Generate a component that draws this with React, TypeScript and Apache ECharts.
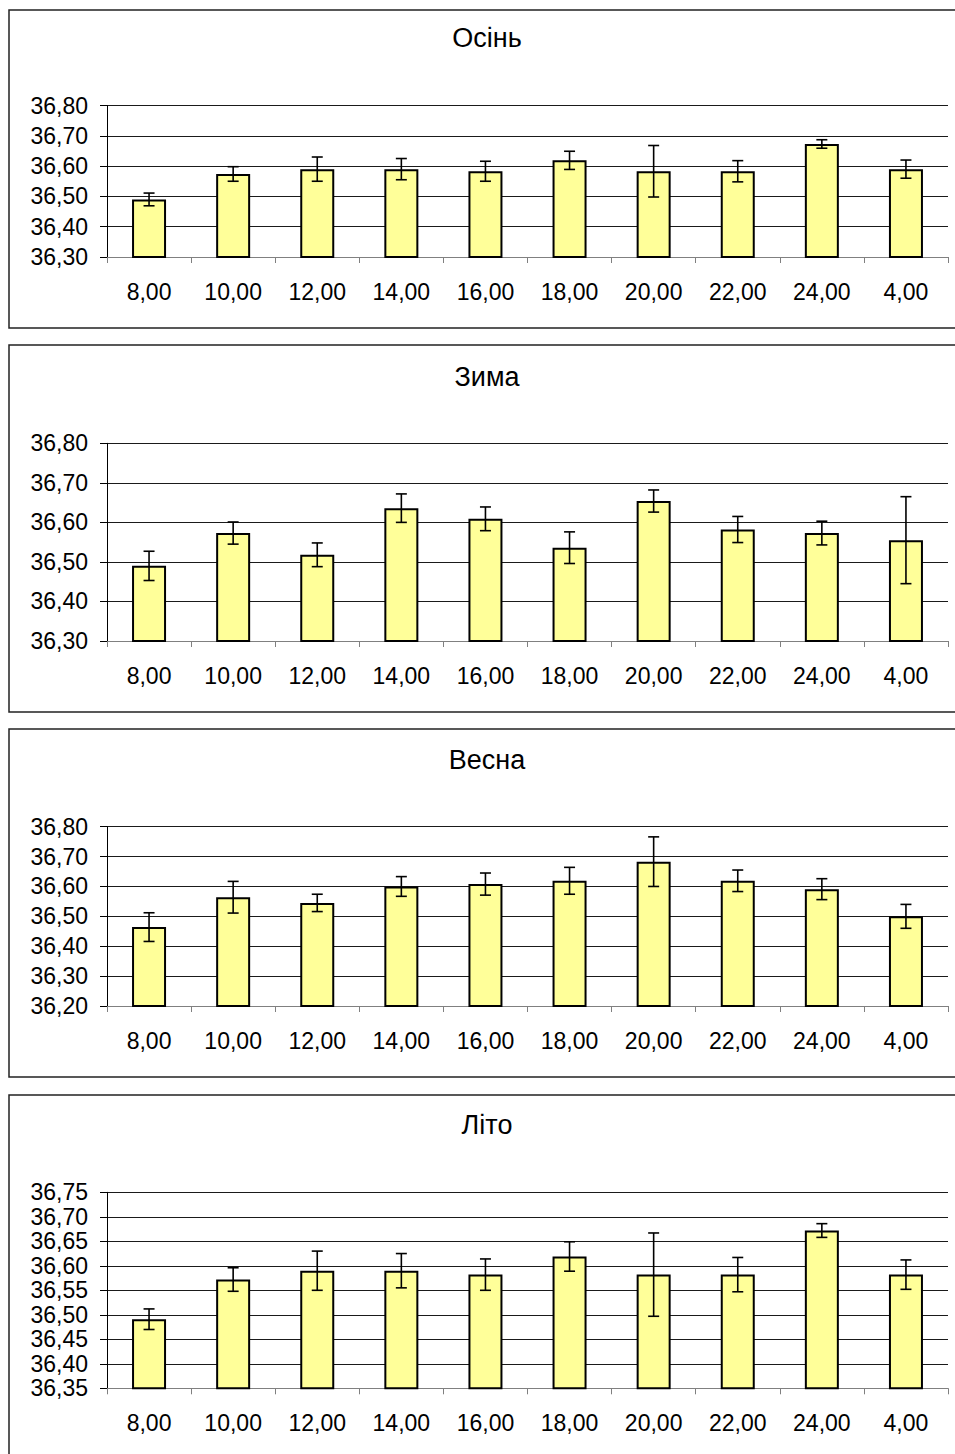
import React, { useEffect, useRef } from "react";
import * as echarts from "echarts";

const categories = ["8,00", "10,00", "12,00", "14,00", "16,00", "18,00", "20,00", "22,00", "24,00", "4,00"];

const seasonTitles = ["Осінь", "Зима", "Весна", "Літо"];

const autumnMean = [36.49, 36.574, 36.59, 36.59, 36.583, 36.619, 36.583, 36.583, 36.673, 36.59];
const autumnErr = [0.021, 0.024, 0.04, 0.035, 0.033, 0.03, 0.085, 0.035, 0.014, 0.03];

const winterMean = [36.49, 36.573, 36.518, 36.636, 36.609, 36.536, 36.654, 36.582, 36.573, 36.555];
const winterErr = [0.037, 0.028, 0.03, 0.036, 0.03, 0.04, 0.028, 0.033, 0.03, 0.11];

const springMean = [36.464, 36.564, 36.545, 36.6, 36.608, 36.619, 36.683, 36.619, 36.591, 36.5];
const springErr = [0.048, 0.053, 0.029, 0.033, 0.037, 0.045, 0.083, 0.036, 0.035, 0.04];

const summerMean = [36.491, 36.572, 36.59, 36.59, 36.582, 36.619, 36.582, 36.582, 36.672, 36.582];
const summerErr = [0.021, 0.024, 0.04, 0.035, 0.032, 0.03, 0.085, 0.035, 0.014, 0.03];

const yMins = [36.3, 36.3, 36.2, 36.35];
const yMaxs = [36.8, 36.8, 36.8, 36.75];
const yIntervals = [0.1, 0.1, 0.1, 0.05];

const FONT = "'Liberation Sans', Arial, sans-serif";

export default function App() {
  const ref = useRef<HTMLDivElement>(null);

  useEffect(() => {
    if (!ref.current) return;
    const chart = echarts.init(ref.current, undefined, { renderer: "svg" });

    const means = [autumnMean, winterMean, springMean, summerMean];
    const errs = [autumnErr, winterErr, springErr, summerErr];

    // layout (pixels)
    const gridTops = [105.5, 443.3, 826.7, 1192.3];
    const gridHeights = [151.5, 197.7, 179.3, 196];
    const panelTops = [10, 345, 729, 1095];
    const panelBottoms = [328, 712, 1077, 1470];
    const titleYs = [38, 377, 760, 1125];

    const grids: any[] = [];
    const xAxes: any[] = [];
    const yAxes: any[] = [];
    const series: any[] = [];
    const graphics: any[] = [];

    for (let p = 0; p < 4; p++) {
      grids.push({ left: 107, width: 841, top: gridTops[p], height: gridHeights[p] });
      xAxes.push({
        type: "category",
        gridIndex: p,
        data: categories,
        axisLine: { show: true, lineStyle: { color: "#808080", width: 1 } },
        axisTick: { show: true, length: 6, lineStyle: { color: "#808080", width: 1 } },
        axisLabel: { color: "#000", fontSize: 23, fontFamily: FONT, margin: 23, interval: 0 },
        splitLine: { show: false },
      });
      yAxes.push({
        type: "value",
        gridIndex: p,
        min: yMins[p],
        max: yMaxs[p],
        interval: yIntervals[p],
        axisLine: { show: true, lineStyle: { color: "#000", width: 1 } },
        axisTick: { show: true, length: 7, lineStyle: { color: "#000", width: 1 } },
        axisLabel: {
          color: "#000",
          fontSize: 23,
          fontFamily: FONT,
          margin: 19,
          formatter: (v: number) => v.toFixed(2).replace(".", ","),
        },
        splitLine: { show: true, lineStyle: { color: "#1a1a1a", width: 1 } },
      });
      series.push({
        type: "bar",
        xAxisIndex: p,
        yAxisIndex: p,
        data: means[p],
        barWidth: 34,
        itemStyle: { color: "#FFFF99", borderColor: "#000", borderWidth: 2 },
        z: 2,
      });
      const errData = means[p].map((m, i) => [i, m, errs[p][i]]);
      series.push({
        type: "custom",
        xAxisIndex: p,
        yAxisIndex: p,
        data: errData,
        encode: { x: 0, y: 1 },
        z: 5,
        renderItem: (params: any, api: any) => {
          const i = api.value(0);
          const m = api.value(1);
          const e = api.value(2);
          const top = api.coord([i, m + e]);
          const bot = api.coord([i, m - e]);
          const cx = top[0];
          const hw = 5.5;
          const st = { stroke: "#000", lineWidth: 1.6 };
          return {
            type: "group",
            children: [
              { type: "line", shape: { x1: cx, y1: top[1], x2: cx, y2: bot[1] }, style: st },
              { type: "line", shape: { x1: cx - hw, y1: top[1], x2: cx + hw, y2: top[1] }, style: st },
              { type: "line", shape: { x1: cx - hw, y1: bot[1], x2: cx + hw, y2: bot[1] }, style: st },
            ],
          };
        },
      });
      graphics.push({
        type: "rect",
        shape: { x: 9, y: panelTops[p], width: 1000, height: panelBottoms[p] - panelTops[p] },
        style: { fill: "none", stroke: "#222", lineWidth: 1.5 },
        silent: true,
        z: 0,
      });
      graphics.push({
        type: "text",
        x: 487,
        y: titleYs[p],
        style: {
          text: seasonTitles[p],
          font: `27px ${FONT}`,
          fill: "#000",
          align: "center",
          verticalAlign: "middle",
          textAlign: "center",
          textVerticalAlign: "middle",
        },
        silent: true,
      });
    }

    chart.setOption({
      animation: false,
      backgroundColor: "#fff",
      grid: grids,
      xAxis: xAxes,
      yAxis: yAxes,
      series,
      graphic: graphics,
    });

    return () => {
      chart.dispose();
    };
  }, []);

  return (
    <div
      ref={ref}
      style={{ position: "absolute", left: 0, top: 0, width: 955, height: 1454, background: "#fff" }}
    />
  );
}
